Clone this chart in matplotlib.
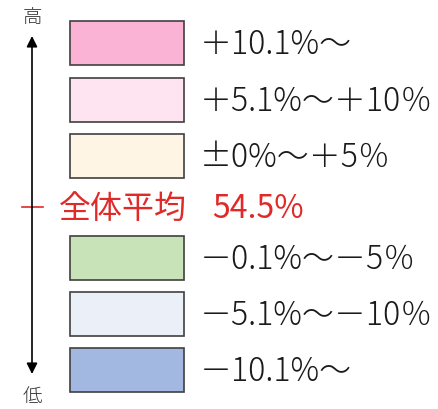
import matplotlib
matplotlib.use("Agg")
import matplotlib.pyplot as plt
from matplotlib.patches import Rectangle

plt.rcParams['font.family'] = ['Noto Sans CJK JP', 'DejaVu Sans']

# legend classes, top to bottom
upper_labels = ["＋10.1%～", "＋5.1%～＋10％", "±0%～＋5％"]
upper_colors = ["#fab3d5", "#fde4f0", "#fef5e4"]
lower_labels = ["－0.1%～－5％", "－5.1%～－10％", "－10.1%～"]
lower_colors = ["#c9e3b9", "#ebeff8", "#a3b8e1"]
avg_label = "全体平均"
avg_value = 54.5
axis_top, axis_bottom = "高", "低"

fig = plt.figure(figsize=(4.39, 4.10), dpi=100)
ax = fig.add_axes([0, 0, 1, 1])
ax.set_xlim(0, 439)
ax.set_ylim(410, 0)
ax.axis("off")

box_x, box_w, box_h = 70, 114, 44
upper_y = [22, 79, 135]
lower_y = [237, 293, 349]

for y, lab, col in zip(upper_y + lower_y, upper_labels + lower_labels,
                       upper_colors + lower_colors):
    ax.add_patch(Rectangle((box_x, y), box_w, box_h, facecolor=col,
                           edgecolor="#404040", lw=1.2))
    ax.text(200, y + box_h / 2 + 1, lab, fontsize=23, va="center",
            ha="left", color="#1a1a1a", fontweight="light")

# vertical arrow
arrow = dict(arrowstyle="-|>", color="black", lw=1.2,
             mutation_scale=16, shrinkA=0, shrinkB=0)
ax.annotate("", xy=(32, 37), xytext=(32, 208), arrowprops=arrow)
ax.annotate("", xy=(32, 375), xytext=(32, 208), arrowprops=arrow)
ax.text(32, 17, axis_top, fontsize=14, ha="center", va="center",
        color="#333333", fontweight="light")
ax.text(32, 397, axis_bottom, fontsize=14, ha="center", va="center",
        color="#333333", fontweight="light")

# average marker
ax.plot([22, 43], [208, 208], color="#e02a2a", lw=1.2)
ax.text(59, 209, avg_label, fontsize=23, color="#e02a2a", va="center", ha="left")
ax.text(212, 209, f"{avg_value}%", fontsize=23, color="#e02a2a", va="center", ha="left")

fig.savefig("out.png", dpi=100)
